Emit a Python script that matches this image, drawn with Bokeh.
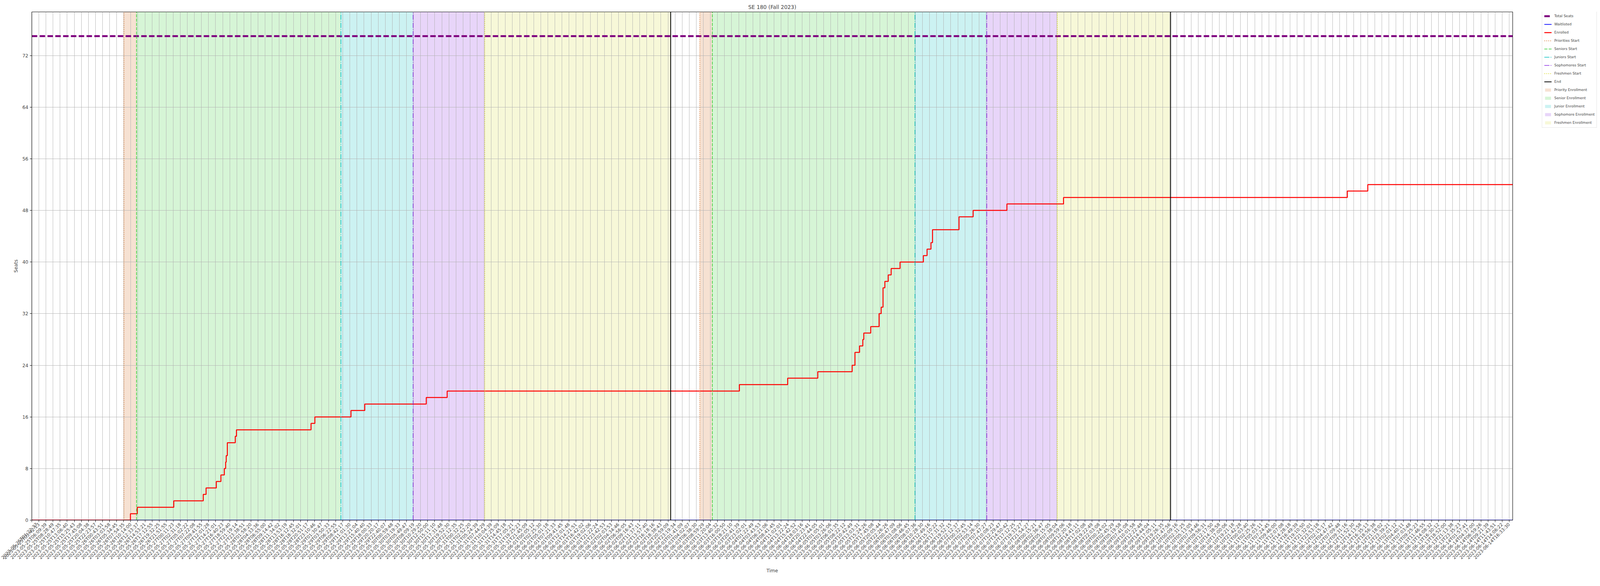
import math

from bokeh.embed import file_html
from bokeh.layouts import row
from bokeh.models import FixedTicker, Legend, LegendItem, Range1d
from bokeh.plotting import figure
from bokeh.resources import INLINE

TITLE = "SE 180 (Fall 2023)"
X_AXIS_LABEL = "Time"
Y_AXIS_LABEL = "Seats"
FONT = "DejaVu Sans"

# the page is photographed 4096 px wide, so horizontal positions of the 6000 px original are squeezed
SX = 4096 / 6000

# one tick label per 8 scraped samples, x positions below are in tick units
TICK_LABELS = [
    "2023-05-25T01:22:37", "2023-05-25T03:42:13", "2023-05-25T06:09:39", "2023-05-25T08:28:49",
    "2023-05-25T10:47:35", "2023-05-25T13:06:40", "2023-05-25T15:25:43", "2023-05-25T17:45:08",
    "2023-05-25T20:04:38", "2023-05-25T22:23:57", "2023-05-26T00:43:51", "2023-05-26T03:03:58",
    "2023-05-26T05:34:45", "2023-05-26T07:54:35", "2023-05-26T10:14:00", "2023-05-26T12:33:37",
    "2023-05-26T14:53:21", "2023-05-26T17:12:55", "2023-05-26T19:32:25", "2023-05-26T21:51:55",
    "2023-05-27T00:11:23", "2023-05-27T02:31:18", "2023-05-27T05:02:22", "2023-05-27T07:22:08",
    "2023-05-27T09:41:55", "2023-05-27T12:01:28", "2023-05-27T14:21:01", "2023-05-27T16:40:23",
    "2023-05-27T18:59:40", "2023-05-27T21:19:14", "2023-05-27T23:38:51", "2023-05-28T01:58:20",
    "2023-05-28T04:33:36", "2023-05-28T06:55:00", "2023-05-28T09:14:42", "2023-05-28T11:34:02",
    "2023-05-28T13:53:19", "2023-05-28T16:12:45", "2023-05-28T18:32:01", "2023-05-28T20:51:17",
    "2023-05-28T23:10:46", "2023-05-29T01:30:47", "2023-05-29T03:50:33", "2023-05-29T06:22:55",
    "2023-05-29T08:42:17", "2023-05-29T11:01:30", "2023-05-29T13:21:04", "2023-05-29T15:40:40",
    "2023-05-29T18:00:33", "2023-05-29T20:20:17", "2023-05-29T22:40:07", "2023-05-30T00:59:48",
    "2023-05-30T03:19:33", "2023-05-30T05:49:47", "2023-05-30T08:09:19", "2023-05-30T10:29:20",
    "2023-05-30T12:50:00", "2023-05-30T15:11:10", "2023-05-30T17:31:48", "2023-05-30T19:52:30",
    "2023-05-30T22:12:35", "2023-05-31T00:32:25", "2023-05-31T02:52:20", "2023-05-31T05:24:39",
    "2023-05-31T07:44:29", "2023-05-31T10:04:39", "2023-05-31T12:25:09", "2023-05-31T14:45:18",
    "2023-05-31T17:05:21", "2023-05-31T19:25:23", "2023-05-31T21:45:09", "2023-06-01T00:05:12",
    "2023-06-01T02:25:30", "2023-06-01T05:01:18", "2023-06-01T07:21:33", "2023-06-01T09:41:45",
    "2023-06-01T12:01:48", "2023-06-01T14:21:51", "2023-06-01T16:42:02", "2023-06-01T19:02:06",
    "2023-06-01T21:22:24", "2023-06-01T23:42:53", "2023-06-02T02:03:53", "2023-06-02T04:34:46",
    "2023-06-02T06:56:05", "2023-06-02T09:16:43", "2023-06-02T11:37:11", "2023-06-02T13:57:40",
    "2023-06-02T16:18:16", "2023-06-02T18:38:43", "2023-06-02T20:59:09", "2023-06-02T23:19:34",
    "2023-06-03T01:41:09", "2023-06-03T04:02:07", "2023-06-03T06:38:30", "2023-06-03T08:59:29",
    "2023-06-03T11:20:04", "2023-06-03T13:40:32", "2023-06-03T16:00:50", "2023-06-03T18:21:10",
    "2023-06-03T20:41:39", "2023-06-03T23:02:01", "2023-06-04T01:22:49", "2023-06-04T03:43:53",
    "2023-06-04T06:21:06", "2023-06-04T08:41:45", "2023-06-04T11:02:01", "2023-06-04T13:22:24",
    "2023-06-04T15:42:52", "2023-06-04T18:03:16", "2023-06-04T20:23:41", "2023-06-04T22:44:05",
    "2023-06-05T01:05:01", "2023-06-05T03:26:06", "2023-06-05T06:01:35", "2023-06-05T08:22:12",
    "2023-06-05T10:42:49", "2023-06-05T13:03:31", "2023-06-05T15:24:26", "2023-06-05T17:45:08",
    "2023-06-05T20:05:44", "2023-06-05T22:26:26", "2023-06-06T00:47:09", "2023-06-06T03:08:06",
    "2023-06-06T05:46:45", "2023-06-06T08:07:36", "2023-06-06T10:28:30", "2023-06-06T12:49:16",
    "2023-06-06T15:10:22", "2023-06-06T17:31:32", "2023-06-06T19:52:15", "2023-06-06T22:12:37",
    "2023-06-07T00:32:45", "2023-06-07T02:53:14", "2023-06-07T05:26:30", "2023-06-07T07:47:27",
    "2023-06-07T10:08:23", "2023-06-07T12:29:47", "2023-06-07T14:50:42", "2023-06-07T17:12:25",
    "2023-06-07T19:33:27", "2023-06-07T21:54:27", "2023-06-08T00:15:21", "2023-06-08T02:36:47",
    "2023-06-08T05:15:05", "2023-06-08T07:38:04", "2023-06-08T09:59:06", "2023-06-08T12:20:18",
    "2023-06-08T14:41:11", "2023-06-08T17:02:08", "2023-06-08T19:22:49", "2023-06-08T22:03:08",
    "2023-06-09T00:24:02", "2023-06-09T02:45:29", "2023-06-09T05:19:58", "2023-06-09T07:41:08",
    "2023-06-09T10:01:58", "2023-06-09T12:22:48", "2023-06-09T14:44:04", "2023-06-09T17:05:11",
    "2023-06-09T19:26:35", "2023-06-09T21:47:56", "2023-06-10T00:09:16", "2023-06-10T02:31:25",
    "2023-06-10T05:13:05", "2023-06-10T07:34:46", "2023-06-10T09:56:31", "2023-06-10T12:17:50",
    "2023-06-10T14:38:58", "2023-06-10T17:00:06", "2023-06-10T19:21:18", "2023-06-10T21:42:28",
    "2023-06-11T00:03:40", "2023-06-11T02:25:26", "2023-06-11T05:03:11", "2023-06-11T07:24:45",
    "2023-06-11T09:46:00", "2023-06-11T12:07:08", "2023-06-11T14:28:18", "2023-06-11T16:49:39",
    "2023-06-11T19:10:50", "2023-06-11T21:32:01", "2023-06-11T23:53:18", "2023-06-12T02:15:17",
    "2023-06-12T04:47:42", "2023-06-12T07:09:48", "2023-06-12T09:31:16", "2023-06-12T11:52:30",
    "2023-06-12T14:13:58", "2023-06-12T16:35:13", "2023-06-12T18:56:38", "2023-06-12T21:18:02",
    "2023-06-12T23:39:21", "2023-06-13T02:01:12", "2023-06-13T04:40:11", "2023-06-13T07:03:48",
    "2023-06-13T09:25:23", "2023-06-13T11:46:55", "2023-06-13T14:08:32", "2023-06-13T16:30:12",
    "2023-06-13T18:52:00", "2023-06-13T21:13:38", "2023-06-13T23:35:23", "2023-06-14T01:57:41",
    "2023-06-14T04:37:00", "2023-06-14T06:59:26", "2023-06-14T09:21:39", "2023-06-14T11:43:51",
    "2023-06-14T14:06:22", "2023-06-14T16:33:30",
]

X_END = 209.5
Y_TOP = 78.75
Y_TICKS = [0, 8, 16, 24, 32, 40, 48, 56, 64, 72]

TOTAL_SEATS = 75
WAITLIST_X = [0, X_END]
WAITLIST_Y = [0, 0]

ENROLLED_X = [0, 13.95, 14.92, 20.08, 24.25, 24.65, 26.1, 26.75, 27.23, 27.42, 27.5, 27.66,
              28.78, 28.95, 39.5, 40.04, 45.15, 47.1, 55.8, 58.76, 100.1, 106.93, 111.19,
              116.05, 116.45, 117.1, 117.56, 117.7, 118.68, 119.86, 120.16, 120.42, 120.68,
              121.16, 121.57, 122.83, 126.13, 126.65, 127.2, 127.42, 131.17, 133.17, 137.95,
              145.96, 186.1, 189.0, X_END]
ENROLLED_Y = [0, 1, 2, 3, 4, 5, 6, 7, 8, 9, 10, 12,
              13, 14, 15, 16, 17, 18, 19, 20, 21, 22, 23,
              24, 26, 27, 28, 29, 30, 32, 33, 36, 37,
              38, 39, 40, 41, 42, 43, 45, 47, 48, 49,
              50, 51, 52, 52]

# enrollment pass 1 and pass 2
PRIORITIES_START = [13.03, 94.5]
SENIORS_START = [14.81, 96.27]
JUNIORS_START = [43.72, 124.94]
SOPHOMORES_START = [53.94, 135.1]
FRESHMEN_START = [64.08, 145.07]
END = [90.38, 161.1]

STARTS = [
    ("Priorities Start", PRIORITIES_START, dict(line_color="chocolate", line_width=1.6, line_dash="2 3")),
    ("Seniors Start", SENIORS_START, dict(line_color="limegreen", line_width=1.6, line_dash="8 3")),
    ("Juniors Start", JUNIORS_START, dict(line_color="#00bfbf", line_width=1.6, line_dash="13 3 2 3")),
    ("Sophomores Start", SOPHOMORES_START, dict(line_color="blueviolet", line_width=1.6, line_dash="13 3 2 3")),
    ("Freshmen Start", FRESHMEN_START, dict(line_color="#d4d400", line_width=1.6, line_dash="2 3")),
    ("End", END, dict(line_color="black", line_width=2)),
]
SHADES = [
    ("Priority Enrollment", PRIORITIES_START, SENIORS_START, "chocolate"),
    ("Senior Enrollment", SENIORS_START, JUNIORS_START, "limegreen"),
    ("Junior Enrollment", JUNIORS_START, SOPHOMORES_START, "#00bfbf"),
    ("Sophomore Enrollment", SOPHOMORES_START, FRESHMEN_START, "blueviolet"),
    ("Freshmen Enrollment", FRESHMEN_START, END, "#d7dc3c"),
]


def draw_series(fig):
    """Draw every series on fig, return (label, renderer) pairs in legend order."""
    out = [
        ("Total Seats", fig.line([0, X_END], [TOTAL_SEATS, TOTAL_SEATS], line_color="purple",
                                 line_width=5, line_dash="14 6")),
        ("Waitlisted", fig.line(WAITLIST_X, WAITLIST_Y, line_color="blue", line_width=1.8)),
        ("Enrolled", fig.step(ENROLLED_X, ENROLLED_Y, mode="after", line_color="red", line_width=2.5)),
    ]
    for label, xs, style in STARTS:
        out.append((label, fig.segment(x0=xs, y0=0, x1=xs, y1=Y_TOP, **style)))
    for label, lefts, rights, color in SHADES:
        out.append((label, fig.quad(left=lefts, right=rights, bottom=0, top=Y_TOP, fill_color=color,
                                    fill_alpha=0.2, line_color=None, level="image")))
    return out


def visualize():
    height = 1484
    frame_right = round(5683 * SX)          # page x of the right spine
    main_width = frame_right
    left = round(131 * SX) - 8
    top, bottom = 30, height - (1339 - 8)
    frame_height = height - top - bottom

    p = figure(
        title=TITLE, x_axis_label=X_AXIS_LABEL, y_axis_label=Y_AXIS_LABEL,
        width=main_width, height=height, output_backend="svg", toolbar_location=None,
        x_range=Range1d(0, X_END), y_range=Range1d(0, Y_TOP),
        min_border_left=left, min_border_right=8, min_border_top=top, min_border_bottom=bottom,
    )
    p.title.align = "center"
    p.title.text_font = FONT
    p.title.text_font_size = "13.5px"
    p.title.text_font_style = "normal"
    p.title.standoff = 9

    p.outline_line_color = "black"
    p.outline_line_width = 1.1
    p.outline_line_alpha = 1

    for axis in (p.xaxis[0], p.yaxis[0]):
        axis.major_label_text_font = FONT
        axis.major_label_text_font_size = "11.5px"
        axis.axis_label_text_font = FONT
        axis.axis_label_text_font_size = "12px"
        axis.axis_label_text_font_style = "normal"
        axis.axis_line_color = "black"
        axis.axis_line_width = 1.1
        axis.major_tick_line_color = "black"
        axis.major_tick_line_width = 1
        axis.major_tick_out = 5
        axis.major_tick_in = 0
        axis.minor_tick_out = 0
        axis.minor_tick_in = 0
        axis.major_label_standoff = 4

    p.xaxis.ticker = FixedTicker(ticks=list(range(len(TICK_LABELS))))
    p.xaxis.major_label_overrides = {i: label for i, label in enumerate(TICK_LABELS)}
    p.xaxis.major_label_orientation = math.pi / 4
    p.xaxis.axis_label_standoff = 12
    p.yaxis.ticker = FixedTicker(ticks=Y_TICKS)
    p.yaxis.major_label_text_font_size = "12px"
    p.yaxis.axis_label_standoff = 6

    p.grid.grid_line_color = "#b0b0b0"
    p.grid.grid_line_width = 0.9

    draw_series(p)

    # the legend sits outside the axes (matplotlib bbox_to_anchor=(1.02, 1)), so it gets its own
    # blank panel to the right; the same series are drawn there but kept out of its visible range
    side_width = 4096 - 8 - main_width
    side = figure(
        width=side_width, height=height, output_backend="svg", toolbar_location=None,
        x_range=Range1d(0, 1), y_range=Range1d(-2, -1), x_axis_location=None, y_axis_location=None,
        min_border=0,
    )
    side.grid.visible = False
    side.outline_line_color = None

    items = [LegendItem(label=label, renderers=[r]) for label, r in draw_series(side)]

    # a row aligns the frames, so the side frame spans the same rows as the main one;
    # a tuple location gives the legend's lower left corner
    label_height, spacing, padding = 14, 7, 5
    legend_height = 2 * padding + len(items) * label_height + (len(items) - 1) * spacing
    legend_left = round(5794 * SX) - (frame_right + 8)
    legend = Legend(
        items=items, location=(legend_left, frame_height - legend_height),
        label_text_font=FONT, label_text_font_size="9px",
        label_height=label_height, glyph_height=10, glyph_width=19,
        label_standoff=7, spacing=spacing, padding=padding, margin=0,
        border_line_color="#cccccc", border_line_width=1,
        background_fill_color="white", background_fill_alpha=0.8,
    )
    side.add_layout(legend)

    open("out.html", "w").write(file_html(row(p, side), INLINE))


if __name__ == '__main__':
    visualize()
